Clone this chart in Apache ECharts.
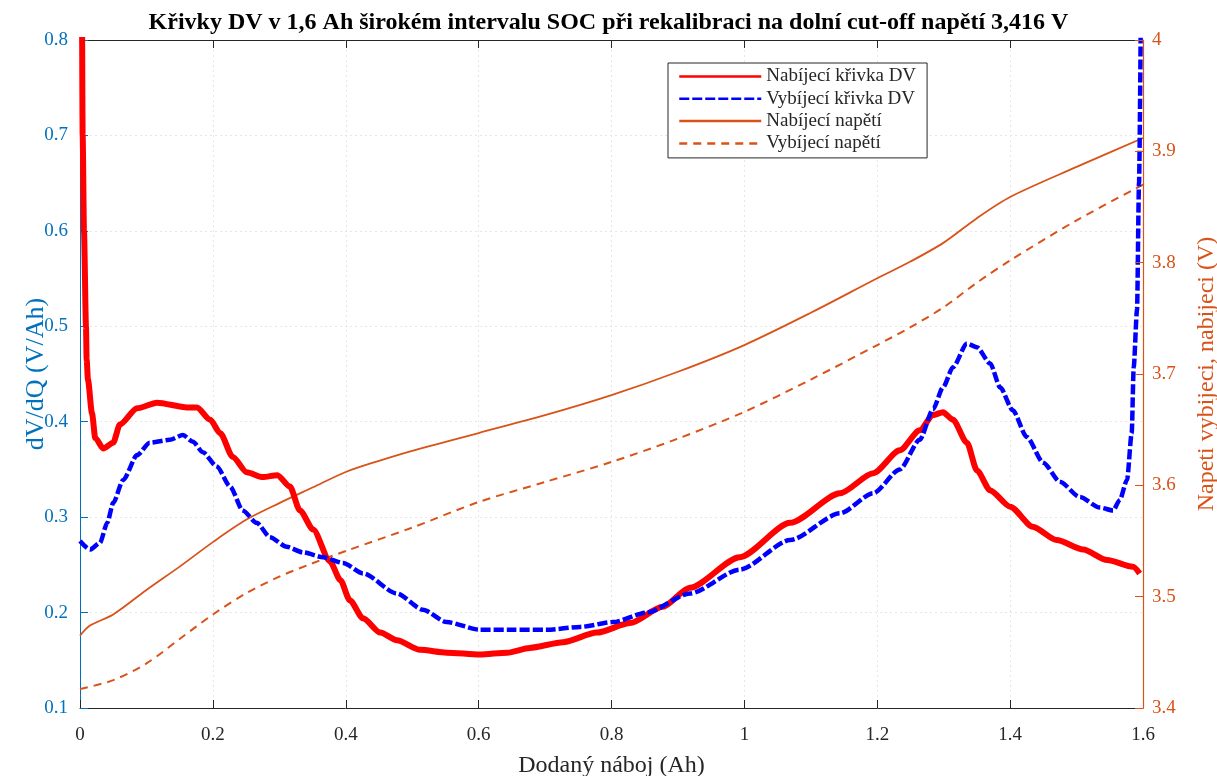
<!DOCTYPE html>
<html><head><meta charset="utf-8">
<script src="https://cdn.jsdelivr.net/npm/echarts@6/dist/echarts.min.js"></script>
<style>html,body{margin:0;padding:0;background:#fff;overflow:hidden}#c{width:1217px;height:776px}</style>
</head><body><div id="c"></div>
<script>
const titleText = 'Křivky DV v 1,6 Ah širokém intervalu SOC při rekalibraci na dolní cut-off napětí 3,416 V';
const seriesNames = ['Nabíjecí křivka DV', 'Vybíjecí křivka DV', 'Nabíjecí napětí', 'Vybíjecí napětí'];
const xName = 'Dodaný náboj (Ah)';
const yLeftName = 'dV/dQ (V/Ah)';
const yRightName = 'Napeti vybijeci, nabijeci (V)';

// [charge (Ah), dV/dQ (V/Ah)]
const chargeDV = [
  [0.0025,0.95],[0.004,0.70],[0.006,0.60],[0.009,0.50],[0.010,0.465],[0.012,0.444],[0.018,0.409],
  [0.023,0.383],[0.035,0.372],[0.050,0.378],[0.060,0.397],[0.086,0.414],[0.116,0.420],[0.161,0.415],
  [0.176,0.415],[0.196,0.402],[0.211,0.388],[0.230,0.363],[0.251,0.347],[0.275,0.342],[0.297,0.344],
  [0.316,0.332],[0.331,0.307],[0.351,0.287],[0.376,0.254],[0.392,0.234],[0.406,0.213],[0.426,0.194],
  [0.452,0.179],[0.477,0.171],[0.512,0.161],[0.552,0.158],[0.602,0.156],[0.643,0.158],[0.677,0.163],
  [0.727,0.169],[0.778,0.179],[0.828,0.189],[0.877,0.206],[0.918,0.226],[0.993,0.258],[1.069,0.294],
  [1.144,0.325],[1.194,0.346],[1.234,0.370],[1.264,0.391],[1.284,0.407],[1.299,0.410],[1.314,0.402],
  [1.335,0.378],[1.350,0.349],[1.370,0.328],[1.400,0.311],[1.434,0.290],[1.470,0.276],[1.510,0.266],
  [1.546,0.255],[1.585,0.248],[1.595,0.241]
];
const dischargeDV = [
  [0.000,0.275],[0.015,0.266],[0.030,0.273],[0.041,0.294],[0.050,0.315],[0.065,0.339],[0.086,0.365],
  [0.105,0.378],[0.135,0.381],[0.155,0.386],[0.170,0.379],[0.185,0.368],[0.206,0.353],[0.226,0.332],
  [0.245,0.307],[0.266,0.294],[0.286,0.279],[0.311,0.269],[0.336,0.263],[0.366,0.258],[0.396,0.252],
  [0.426,0.241],[0.477,0.220],[0.516,0.203],[0.552,0.190],[0.602,0.182],[0.652,0.182],[0.703,0.182],
  [0.753,0.185],[0.802,0.190],[0.853,0.200],[0.918,0.220],[0.993,0.245],[1.069,0.276],[1.144,0.304],
  [1.194,0.325],[1.234,0.350],[1.264,0.381],[1.284,0.413],[1.299,0.436],[1.314,0.457],[1.335,0.482],
  [1.350,0.478],[1.370,0.461],[1.385,0.436],[1.404,0.412],[1.425,0.384],[1.450,0.357],[1.475,0.337],
  [1.505,0.321],[1.535,0.310],[1.555,0.307],[1.565,0.318],[1.576,0.339],[1.583,0.388],[1.586,0.457],
  [1.591,0.517],[1.594,0.650],[1.597,0.850]
];
// [charge (Ah), voltage (V)]
const chargeV = [
  [0,3.465],[0.015,3.474],[0.05,3.484],[0.1,3.506],[0.15,3.527],[0.2,3.549],[0.25,3.569],[0.3,3.584],
  [0.35,3.598],[0.4,3.612],[0.45,3.622],[0.5,3.631],[0.6,3.647],[0.7,3.663],[0.8,3.681],[0.9,3.702],
  [1.0,3.726],[1.1,3.755],[1.2,3.786],[1.25,3.801],[1.3,3.818],[1.35,3.840],[1.4,3.859],[1.5,3.886],[1.6,3.912]
];
const dischargeV = [
  [0,3.417],[0.05,3.425],[0.1,3.440],[0.15,3.462],[0.2,3.484],[0.25,3.503],[0.3,3.518],[0.35,3.530],
  [0.4,3.541],[0.5,3.562],[0.6,3.585],[0.7,3.603],[0.8,3.621],[0.9,3.642],[1.0,3.666],[1.1,3.695],
  [1.2,3.726],[1.25,3.742],[1.3,3.760],[1.35,3.782],[1.4,3.802],[1.5,3.838],[1.6,3.870]
];

const FONT = 'Liberation Serif';
const BLUE_AX = '#0072BD';
const ORANGE = '#D95319';
const DARK = '#262626';

const chart = echarts.init(document.getElementById('c'), null, {renderer: 'canvas', width: 1217, height: 776});
chart.setOption({
  animation: false,
  backgroundColor: '#fff',
  title: {
    text: titleText, left: 'center', top: 6,
    textStyle: {fontFamily: FONT, fontWeight: 'bold', fontSize: 24, color: '#000'}
  },
  legend: {
    orient: 'vertical', left: 668, top: 63,
    padding: [4, 11, 5, 10],
    itemWidth: 82, itemHeight: 20, itemGap: 3.3,
    backgroundColor: '#fff', borderColor: DARK, borderWidth: 1, borderRadius: 0,
    textStyle: {fontFamily: FONT, fontSize: 19, color: DARK},
    lineStyle: {width: 2.5},
    itemStyle: {opacity: 0},
    data: seriesNames
  },
  grid: {left: 80, right: 74, top: 40, bottom: 68, containLabel: false, outerBoundsMode: 'none'},
  xAxis: [{
    type: 'value', min: 0, max: 1.6, interval: 0.2, position: 'bottom',
    name: xName, nameLocation: 'middle', nameGap: 46, nameMoveOverlap: false,
    nameTextStyle: {fontFamily: FONT, fontSize: 24, color: DARK},
    axisLine: {show: true, onZero: false, lineStyle: {color: DARK, width: 1}},
    axisTick: {show: true, inside: true, length: 8, lineStyle: {color: DARK}},
    axisLabel: {fontFamily: FONT, fontSize: 19, color: DARK, margin: 18},
    splitLine: {show: true, showMaxLine: false, showMinLine: false, lineStyle: {color: '#e6e6e6', type: [2, 3], width: 1}}
  }, {
    type: 'value', min: 0, max: 1.6, interval: 0.2, position: 'top',
    axisLine: {show: true, onZero: false, lineStyle: {color: DARK, width: 1}},
    axisTick: {show: true, inside: true, length: 8, lineStyle: {color: DARK}},
    axisLabel: {show: false}, splitLine: {show: false}
  }],
  yAxis: [{
    type: 'value', min: 0.1, max: 0.8, interval: 0.1, position: 'left',
    name: yLeftName, nameLocation: 'middle', nameGap: 31, nameRotate: 90, nameMoveOverlap: false,
    nameTextStyle: {fontFamily: FONT, fontSize: 26, color: BLUE_AX},
    axisLine: {show: true, onZero: false, lineStyle: {color: BLUE_AX, width: 1}},
    axisTick: {show: true, inside: true, length: 8, lineStyle: {color: BLUE_AX}},
    axisLabel: {fontFamily: FONT, fontSize: 19, color: BLUE_AX, margin: 12},
    splitLine: {show: true, showMaxLine: false, showMinLine: false, lineStyle: {color: '#e6e6e6', type: [2, 3], width: 1}}
  }, {
    type: 'value', min: 3.4, max: 4, interval: 0.1, position: 'right', z: 6,
    name: yRightName, nameLocation: 'middle', nameGap: 52, nameRotate: 90, nameMoveOverlap: false,
    nameTextStyle: {fontFamily: FONT, fontSize: 24, color: ORANGE},
    axisLine: {show: true, onZero: false, lineStyle: {color: ORANGE, width: 1.2}},
    axisTick: {show: true, inside: true, length: 8, lineStyle: {color: ORANGE}},
    axisLabel: {fontFamily: FONT, fontSize: 19, color: ORANGE, margin: 9},
    splitLine: {show: false}
  }],
  series: [
    {name: seriesNames[2], type: 'line', xAxisIndex: 0, yAxisIndex: 1, data: chargeV, symbol: 'none',
     smooth: 0.3, lineStyle: {color: ORANGE, width: 1.8}, itemStyle: {color: ORANGE}, z: 2},
    {name: seriesNames[3], type: 'line', xAxisIndex: 0, yAxisIndex: 1, data: dischargeV, symbol: 'none',
     smooth: 0.3, lineStyle: {color: ORANGE, width: 2, type: [8, 6]}, itemStyle: {color: ORANGE}, z: 2},
    {name: seriesNames[0], type: 'line', xAxisIndex: 0, yAxisIndex: 0, data: chargeDV, symbol: 'none',
     smooth: 0.25, smoothMonotone: 'x', lineStyle: {color: '#FF0000', width: 6}, itemStyle: {color: '#FF0000'}, z: 3},
    {name: seriesNames[1], type: 'line', xAxisIndex: 0, yAxisIndex: 0, data: dischargeDV, symbol: 'none',
     smooth: 0.25, smoothMonotone: 'x', lineStyle: {color: '#0000FF', width: 4.5, type: [10, 3]}, itemStyle: {color: '#0000FF'}, z: 4}
  ]
});
</script>
</body></html>
